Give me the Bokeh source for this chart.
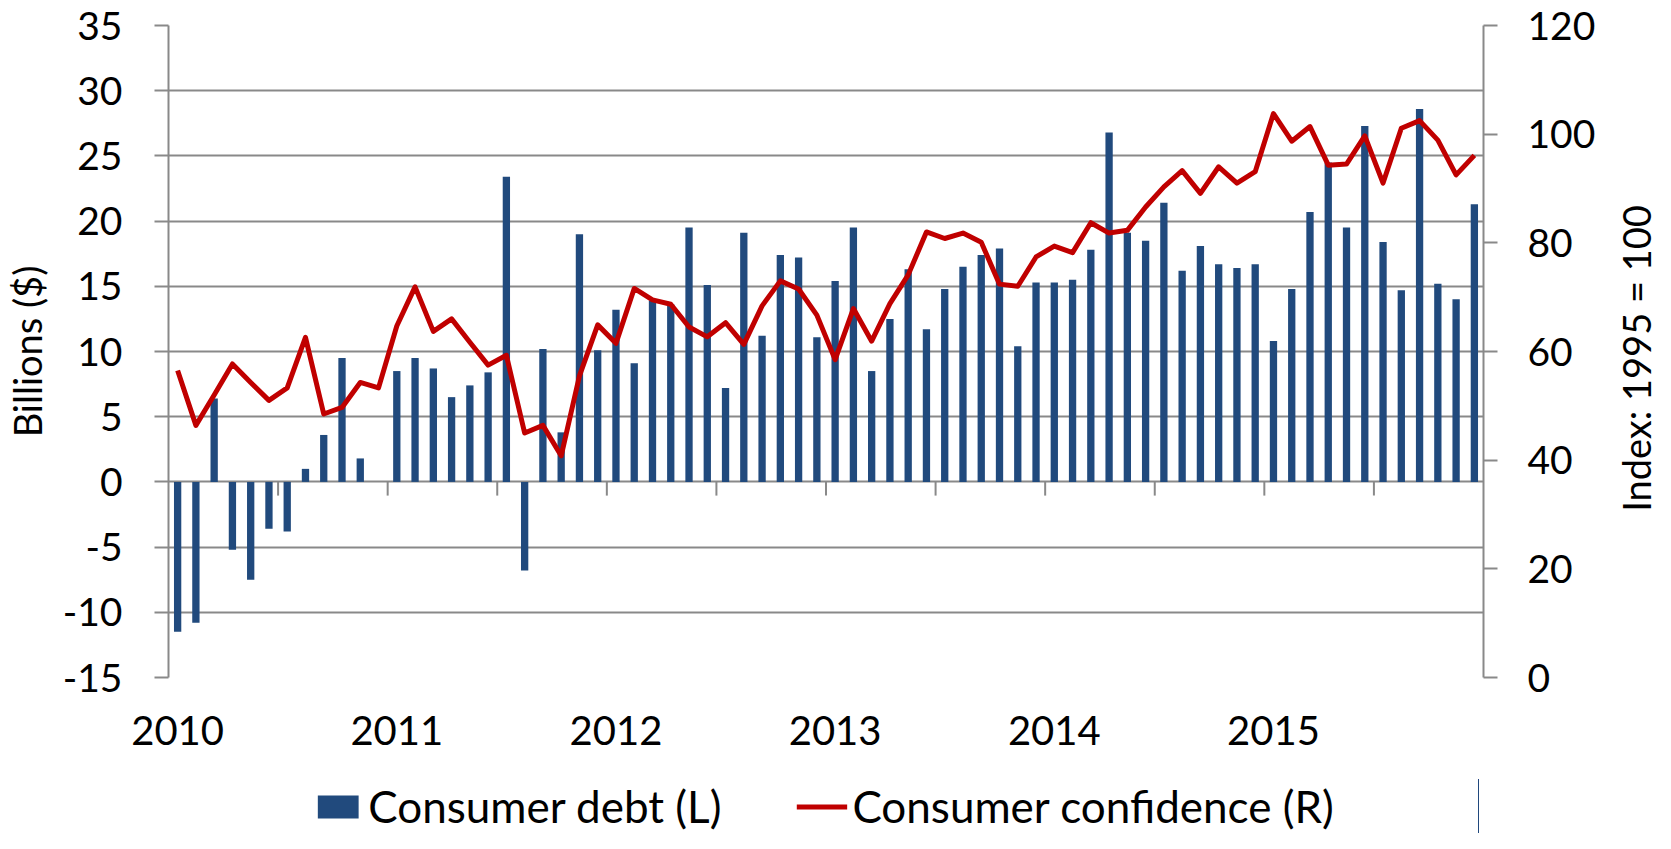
import math
from bokeh.plotting import figure
from bokeh.layouts import column
from bokeh.models import (Range1d, LinearAxis, FixedTicker, Legend, LegendItem,
                          ColumnDataSource, Label)
from bokeh.embed import file_html
from bokeh.resources import INLINE

# ---- data (monthly, Jan 2010 .. Dec 2015) ----
years = ["2010", "2011", "2012", "2013", "2014", "2015"]
consumer_debt = [-11.5, -10.8, 6.4, -5.2, -7.5, -3.6, -3.8, 1.0, 3.6, 9.5, 1.8, 0.0,
                 8.5, 9.5, 8.7, 6.5, 7.4, 8.4, 23.4, -6.8, 10.2, 3.8, 19.0, 10.1,
                 13.2, 9.1, 13.9, 13.6, 19.5, 15.1, 7.2, 19.1, 11.2, 17.4, 17.2, 11.1,
                 15.4, 19.5, 8.5, 12.5, 16.3, 11.7, 14.8, 16.5, 17.4, 17.9, 10.4, 15.3,
                 15.3, 15.5, 17.8, 26.8, 19.1, 18.5, 21.4, 16.2, 18.1, 16.7, 16.4, 16.7,
                 10.8, 14.8, 20.7, 24.5, 19.5, 27.3, 18.4, 14.7, 28.6, 15.2, 14.0, 21.3]
consumer_confidence = [56.5, 46.4, 52.0, 57.7, 54.3, 51.0, 53.3, 62.6, 48.5, 49.7, 54.3, 53.3,
                       64.7, 71.9, 63.7, 66.0, 61.7, 57.5, 59.3, 45.0, 46.4, 40.8, 55.5, 64.9,
                       61.5, 71.6, 69.5, 68.7, 64.5, 62.7, 65.3, 61.3, 68.4, 73.0, 71.5, 66.7,
                       58.5, 67.9, 61.9, 68.8, 74.1, 82.0, 80.8, 81.8, 80.1, 72.4, 72.0, 77.4,
                       79.4, 78.2, 83.7, 81.8, 82.3, 86.6, 90.3, 93.3, 89.1, 94.0, 91.0, 93.1,
                       103.8, 98.7, 101.4, 94.3, 94.5, 99.7, 91.0, 101.1, 102.5, 98.9, 92.5, 96.1]
left_ticks = [-15, -10, -5, 0, 5, 10, 15, 20, 25, 30, 35]
right_ticks = [0, 20, 40, 60, 80, 100, 120]
left_title = "Billions ($)"
right_title = "Index: 1995 = 100"
series_names = ["Consumer debt (L)", "Consumer confidence (R)"]

months = list(range(len(consumer_debt)))
GRAY = "#898989"
BLUE = "#214A7D"
RED = "#C00000"
FONT = "Lato"
FRAME_W, FRAME_H = 1315, 652
LEGEND_H = 54
LEFT, RIGHT, TOP = 163, 177, 25
BOTTOM = 833 - (TOP + FRAME_H + LEGEND_H)
TOTAL_W = LEFT + FRAME_W + RIGHT

p = figure(frame_width=FRAME_W, frame_height=FRAME_H, output_backend="svg",
           toolbar_location=None,
           x_range=Range1d(-0.5, len(months) - 0.5),
           y_range=Range1d(left_ticks[0], left_ticks[-1]),
           min_border_left=LEFT, min_border_right=RIGHT, min_border_top=TOP,
           min_border_bottom=BOTTOM, outline_line_color=None,
           background_fill_color="white", border_fill_color="white")
p.extra_y_ranges = {"right": Range1d(right_ticks[0], right_ticks[-1])}

# grid
p.xgrid.visible = False
p.ygrid.ticker = FixedTicker(ticks=left_ticks)
p.ygrid.grid_line_color = GRAY
p.ygrid.grid_line_width = 2

# left axis
yax = p.yaxis[0]
yax.ticker = FixedTicker(ticks=left_ticks)
yax.major_label_overrides = {t: str(t) for t in left_ticks}
yax.axis_label = left_title

# bottom axis
xax = p.xaxis[0]
tick_pos = [months[i] for i in range(0, len(months), 12)]
xax.ticker = FixedTicker(ticks=tick_pos)
xax.major_label_overrides = {t: y for t, y in zip(tick_pos, years)}
xax.axis_line_color = None
xax.major_tick_line_color = None
xax.minor_tick_line_color = None
xax.major_tick_out = 0
xax.major_label_standoff = 38
xax.major_label_text_font = FONT
xax.major_label_text_font_size = "40px"
xax.major_label_text_color = "black"

# right axis
rax = LinearAxis(y_range_name="right", ticker=FixedTicker(ticks=right_ticks))
rax.major_label_overrides = {t: str(t) for t in right_ticks}
p.add_layout(rax, "right")

for ax, so in [(yax, 32), (rax, 30)]:
    ax.axis_line_color = GRAY
    ax.axis_line_width = 2
    ax.major_tick_line_color = GRAY
    ax.major_tick_line_width = 2
    ax.major_tick_out = 14
    ax.major_tick_in = 0
    ax.minor_tick_line_color = None
    ax.major_label_standoff = so
    ax.major_label_text_font = FONT
    ax.major_label_text_font_size = "39px"
    ax.major_label_text_color = "black"
    ax.axis_label_text_font = FONT
    ax.axis_label_text_font_size = "38px"
    ax.axis_label_text_font_style = "normal"
    ax.axis_label_text_color = "black"
    ax.axis_label_standoff = 10

# right title, in the right side panel, reading bottom-to-top
p.add_layout(Label(x=37, y=FRAME_H / 2 - 7, x_units="screen", y_units="screen",
                   text=right_title, angle=math.pi / 2, text_align="center",
                   text_baseline="middle", text_font=FONT, text_font_size="38px",
                   text_color="black"), "right")

# bars
src = ColumnDataSource(dict(x=months, debt=consumer_debt, conf=consumer_confidence))
p.vbar(x="x", top="debt", bottom=0, width=0.4, source=src,
       fill_color=BLUE, line_color=None)

# small ticks on the zero line every 6 months
half = [m - 0.5 for m in months[6::6]]
p.segment(x0=half, x1=half, y0=[0] * len(half), y1=[-1.05] * len(half),
          line_color=GRAY, line_width=2)

# line
p.line(x="x", y="conf", source=src, y_range_name="right",
       line_color=RED, line_width=5, line_join="round")

# ---- legend strip (separate figure under the chart; its ranges show no data) ----
lg = figure(width=TOTAL_W, height=LEGEND_H, output_backend="svg",
            toolbar_location=None, x_range=Range1d(-1000, -999), y_range=Range1d(0, 1),
            min_border=0, outline_line_color=None,
            background_fill_color="white", border_fill_color="white")
lg.axis.visible = False
lg.grid.visible = False
lb = lg.vbar(x="x", top="debt", width=0.4, source=src, fill_color=BLUE, line_color=None)
ll = lg.line(x="x", y="conf", source=src, line_color=RED, line_width=5)
legend = Legend(items=[LegendItem(label=series_names[0], renderers=[lb]),
                       LegendItem(label=series_names[1], renderers=[ll])],
                orientation="horizontal", location="center",
                label_text_font=FONT, label_text_font_size="44px",
                label_text_color="black",
                glyph_width=51, glyph_height=29, label_standoff=5, spacing=75,
                border_line_color=None, background_fill_alpha=0,
                padding=0, margin=0)
lg.add_layout(legend, "center")

open("out.html", "w").write(file_html(column(p, lg, spacing=0), INLINE))
